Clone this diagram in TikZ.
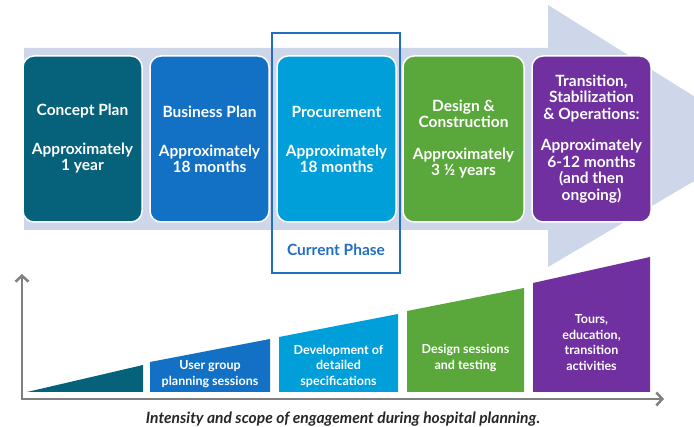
\documentclass[tikz,border=0pt]{standalone}
\usepackage{fontspec}
\setmainfont{Lato}
\usepackage{tikz}
\usetikzlibrary{arrows.meta, positioning}

\definecolor{arrowbg}{RGB}{206,214,234}
\definecolor{conceptc}{RGB}{5,98,122}
\definecolor{businessc}{RGB}{18,113,196}
\definecolor{procurec}{RGB}{1,159,217}
\definecolor{designc}{RGB}{90,168,59}
\definecolor{transc}{RGB}{112,48,160}
\definecolor{currentc}{RGB}{35,110,195}
\definecolor{axisgrey}{RGB}{128,128,128}

\begin{document}
\begin{tikzpicture}[x=1pt, y=-1pt,
            phase/.style={draw=white, line width=1.5pt, rounded corners=11pt, minimum width=119pt, minimum height=166pt, align=center, text=white, font=\bfseries\fontsize{15.5}{16}\selectfont},
            stage/.style={align=center, text=white, font=\bfseries\fontsize{12.5}{15.5}\selectfont},
            axis/.style={draw=axisgrey, line width=2.5pt, {Straight Barb[length=6pt,width=13pt]}-{Straight Barb[length=6pt,width=13pt]}}]
            \useasboundingbox (0,0) rectangle (694,427);
            \clip (0,0) rectangle (694,427);

            % big timeline arrow
            \fill[arrowbg] (24,48) -- (548,48) -- (548,5) -- (764,140) -- (548,267) -- (548,230) -- (24,230) -- cycle;

            % current phase frame
            \node[draw=currentc, line width=2pt, minimum width=128pt, minimum height=240pt] (current) at (336,153) {};
            \node[text=currentc, font=\bfseries\fontsize{15.5}{18}\selectfont] (currentlbl) at (336,250) {Current Phase};

            % phases
            \node[phase, fill=conceptc] (concept) at (82.5,139) {Concept Plan\\[23pt]Approximately\\1 year};
            \node[phase, fill=businessc] (business) at (209.5,139) {Business Plan\\[23pt]Approximately\\18 months};
            \node[phase, fill=procurec] (procure) at (336.5,139) {Procurement\\[23pt]Approximately\\18 months};
            \node[phase, fill=designc, minimum width=121pt] (design) at (463.5,139) {Design \&\\Construction\\[16pt]Approximately\\3 ½ years};
            \node[phase, fill=transc, font=\bfseries\fontsize{15.5}{16.5}\selectfont] (trans) at (591.5,139) {Transition,\\Stabilization\\\& Operations:\\[15pt]Approximately\\6-12 months\\(and then\\ongoing)};

            % engagement levels
            \fill[conceptc] (27,392) -- (143,392) -- (143,365) -- cycle;
            \fill[businessc] (150,392) -- (270,392) -- (270,339) -- (150,362) -- cycle;
            \fill[procurec] (279,392) -- (398,392) -- (398,314) -- (279,337) -- cycle;
            \fill[designc] (407,392) -- (524,392) -- (524,288) -- (407,311) -- cycle;
            \fill[transc] (533,392) -- (650,392) -- (650,257) -- (533,283) -- cycle;

            \node[stage] (usergroup) at (210,374) {User group\\planning sessions};
            \node[stage] (specs) at (338.5,366) {Development of\\detailed\\specifications};
            \node[stage] (sessions) at (465.5,358) {Design sessions\\and testing};
            \node[stage] (tours) at (591.5,342.5) {Tours,\\education,\\transition\\activities};

            % axes
            \coordinate (origin) at (22,399);
            \coordinate (ytop) at (22,274);
            \coordinate (xend) at (664,399);
            \draw[axis] (ytop) -- (origin) -- (xend);

            \node[text=black!85, font=\bfseries\itshape\fontsize{15.6}{17}\selectfont] (caption) at (343,419) {Intensity and scope of engagement during hospital planning.};
        \end{tikzpicture}
\end{document}
